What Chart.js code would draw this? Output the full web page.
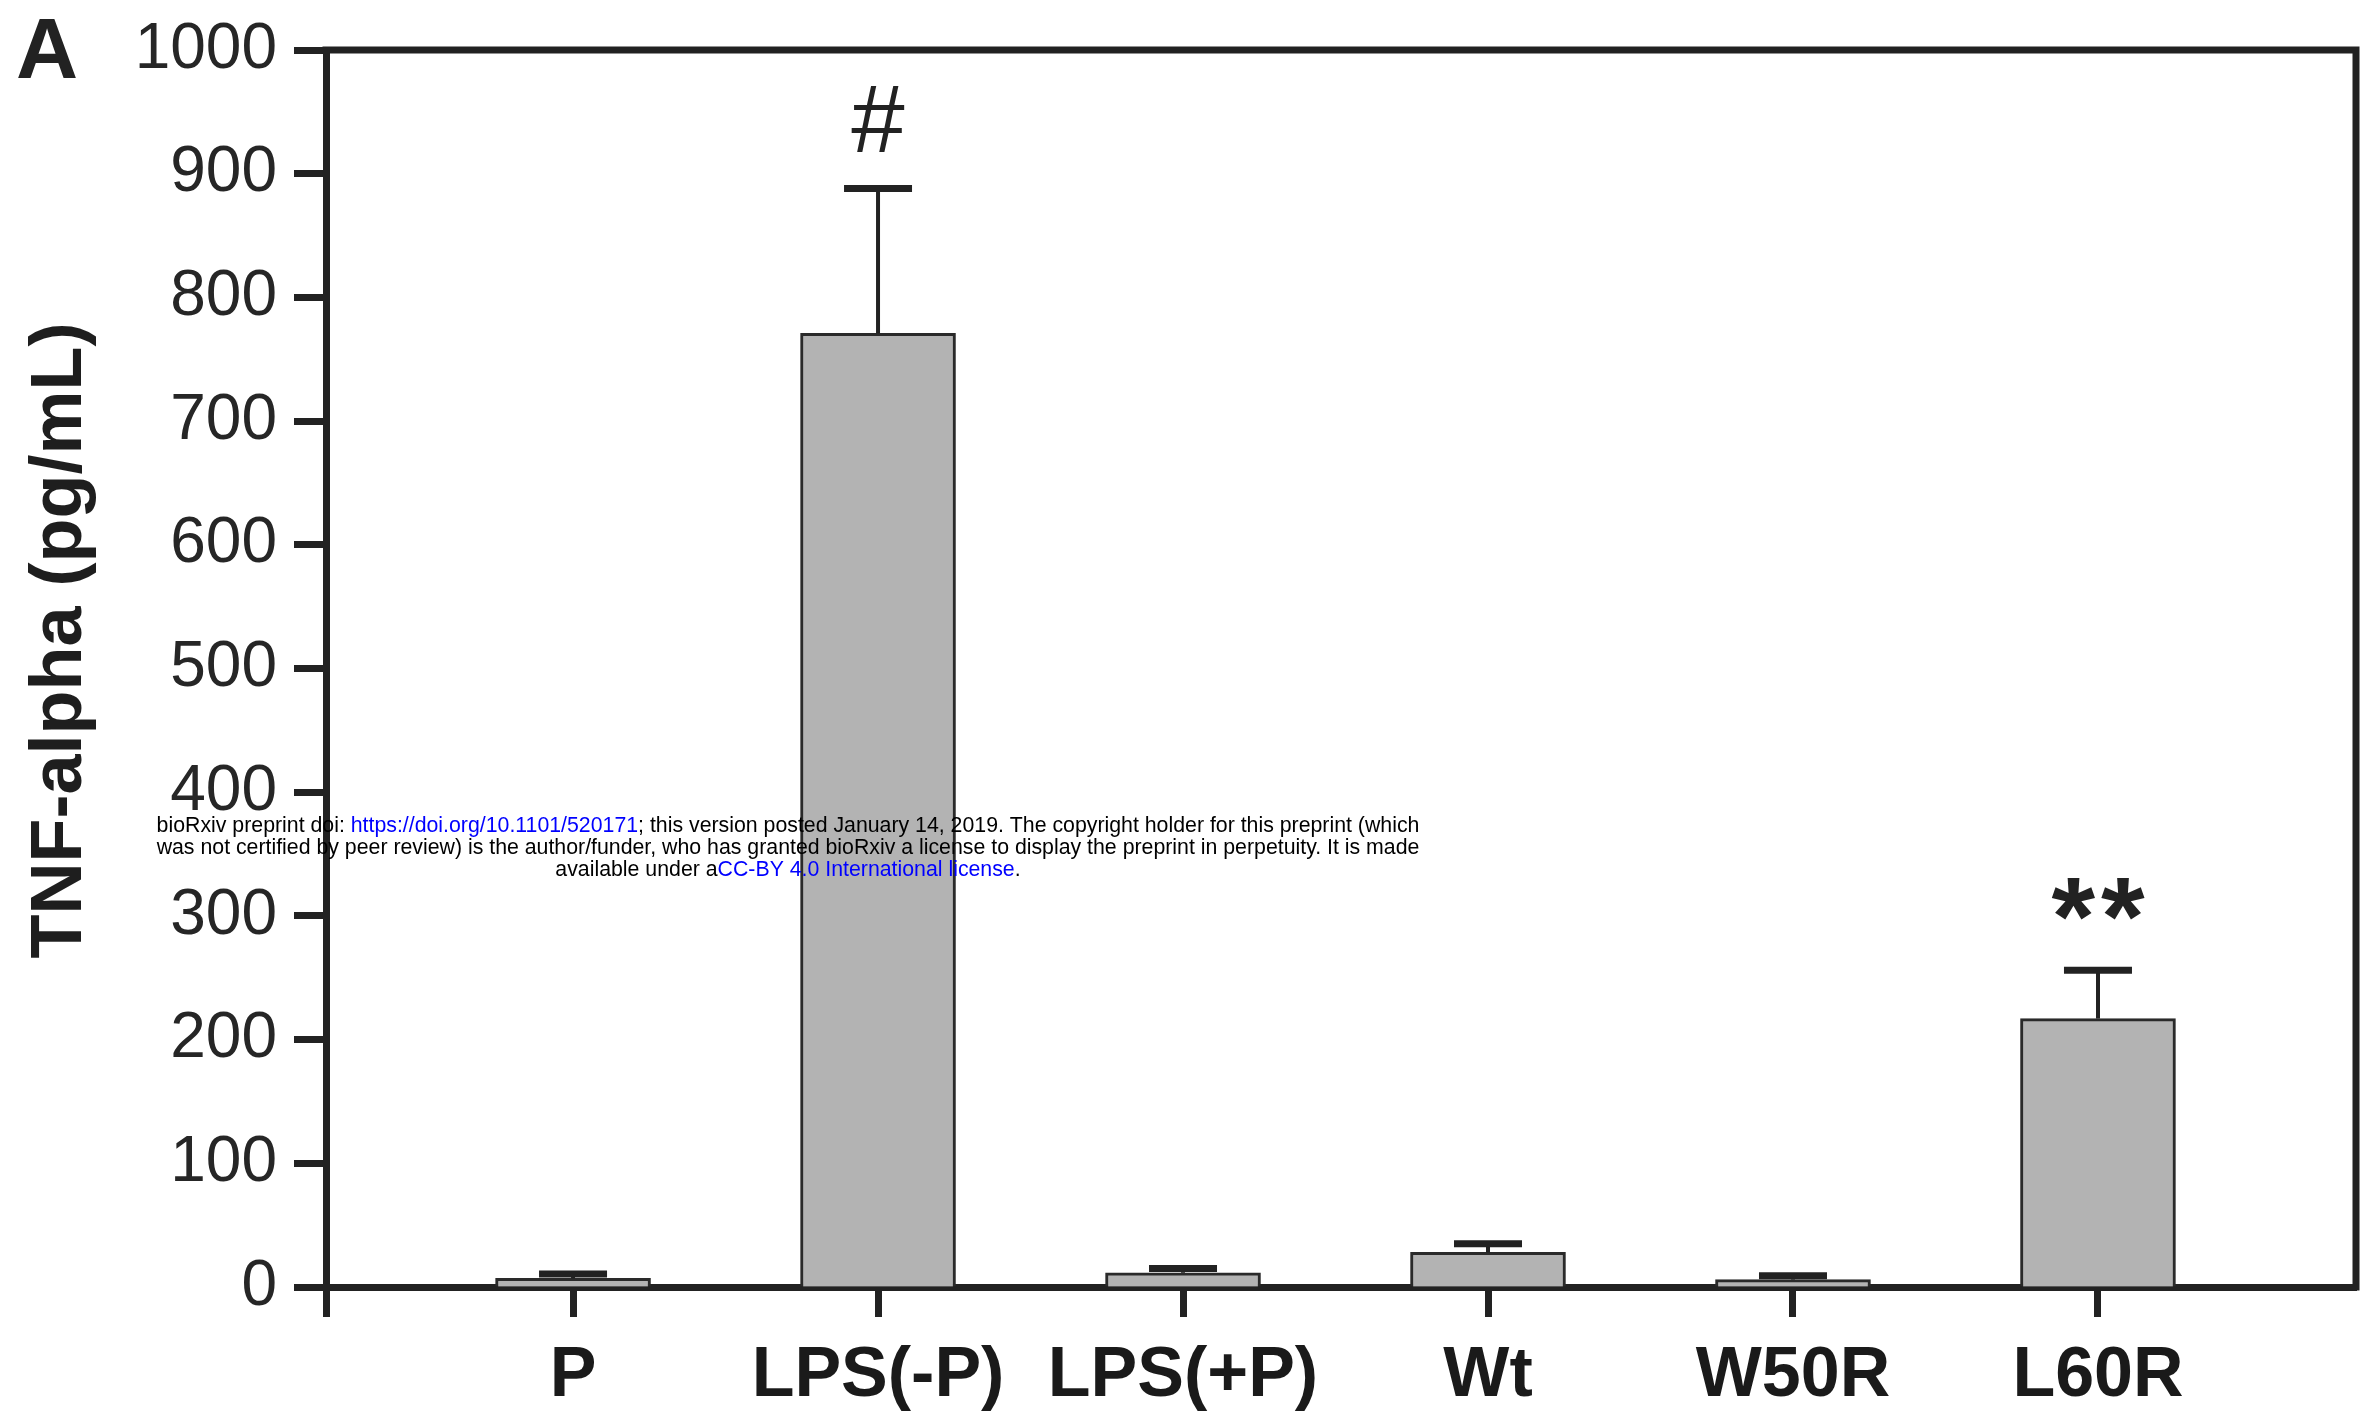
<!DOCTYPE html>
<html>
<head>
<meta charset="utf-8">
<script src="https://cdn.jsdelivr.net/npm/chart.js@4.4.1/dist/chart.umd.min.js"></script>
<style>
  html, body { margin: 0; padding: 0; background: #ffffff; }
  #wrap { width: 2360px; height: 1414px; position: relative; }
  canvas { display: block; }
</style>
</head>
<body>
<div id="wrap"><canvas id="chart" width="2360" height="1414"></canvas></div>
<script>
// Groups and measured TNF-alpha (mean and error, pg/mL)
const categories = ['P', 'LPS(-P)', 'LPS(+P)', 'Wt', 'W50R', 'L60R'];
const meanValues = [7, 771, 11.5, 28, 6, 217];
const errorValues = [3.5, 117, 3.5, 7, 3, 39];
const significance = ['', '#', '', '', '', '**'];
const yTickValues = [0, 100, 200, 300, 400, 500, 600, 700, 800, 900, 1000];

const INK = '#222222';
const FONT = '"Liberation Sans", Arial, Helvetica, sans-serif';

// Preprint notice printed across the page
const noticeLines = [
  [['bioRxiv preprint doi: ', '#000000'], ['https://doi.org/10.1101/520171', '#0000ff'],
   ['; this version posted January 14, 2019. The copyright holder for this preprint (which', '#000000']],
  [['was not certified by peer review) is the author/funder, who has granted bioRxiv a license to display the preprint in perpetuity. It is made', '#000000']],
  [['available under a', '#000000'], ['CC-BY 4.0 International license', '#0000ff'], ['.', '#000000']]
];

const markerStyles = {
  '#': { font: 'normal 96px ' + FONT, lift: 37, spacing: '0px' },
  '**': { font: 'bold 112px ' + FONT, lift: 15, spacing: '6px' }
};

const barData = categories.map((c, i) => ({ x: i, y: meanValues[i] }));

const decorations = {
  id: 'decorations',
  afterDatasetsDraw(chart) {
    const { ctx, scales: { x, y } } = chart;
    ctx.save();
    ctx.strokeStyle = INK;
    ctx.lineCap = 'butt';
    meanValues.forEach((m, i) => {
      const px = x.getPixelForValue(i);
      const yBar = y.getPixelForValue(m);
      const yTop = y.getPixelForValue(m + errorValues[i]);
      // stem
      ctx.lineWidth = 4;
      ctx.beginPath();
      ctx.moveTo(px, yBar);
      ctx.lineTo(px, yTop);
      ctx.stroke();
      // cap
      ctx.lineWidth = 7;
      ctx.beginPath();
      ctx.moveTo(px - 34, yTop);
      ctx.lineTo(px + 34, yTop);
      ctx.stroke();
      // significance marker
      const s = significance[i];
      if (s) {
        const st = markerStyles[s];
        ctx.font = st.font;
        ctx.letterSpacing = st.spacing;
        ctx.fillStyle = INK;
        ctx.textAlign = 'left';
        ctx.textBaseline = 'alphabetic';
        const w = ctx.measureText(s).width - parseFloat(st.spacing);
        ctx.fillText(s, px - w / 2, yTop - st.lift);
        ctx.letterSpacing = '0px';
      }
    });
    ctx.restore();
  },
  afterDraw(chart) {
    const { ctx, chartArea: a } = chart;
    ctx.save();
    // top and right frame of the plot box
    ctx.strokeStyle = INK;
    ctx.lineWidth = 7;
    ctx.beginPath();
    ctx.moveTo(a.left - 3.5, a.top);
    ctx.lineTo(a.right, a.top);
    ctx.lineTo(a.right, a.bottom + 3.5);
    ctx.stroke();

    // panel letter
    ctx.fillStyle = INK;
    ctx.font = 'bold 86px ' + FONT;
    ctx.textAlign = 'left';
    ctx.textBaseline = 'alphabetic';
    ctx.fillText('A', 16, 78);

    // preprint notice
    ctx.font = '21.3px ' + FONT;
    ctx.textBaseline = 'middle';
    const centerX = 788;
    const lineYs = [826, 848, 870];
    noticeLines.forEach((segs, li) => {
      const total = segs.reduce((w, s) => w + ctx.measureText(s[0]).width, 0);
      let cx = centerX - total / 2;
      segs.forEach(([txt, col]) => {
        ctx.fillStyle = col;
        ctx.fillText(txt, cx, lineYs[li]);
        cx += ctx.measureText(txt).width;
      });
    });
    ctx.restore();
  }
};

new Chart(document.getElementById('chart'), {
  type: 'bar',
  data: {
    datasets: [{
      data: barData,
      backgroundColor: '#b3b3b3',
      borderColor: '#2a2a2a',
      borderWidth: 3,
      borderSkipped: 'start',
      barThickness: 155
    }]
  },
  options: {
    responsive: false,
    animation: false,
    devicePixelRatio: 1,
    layout: { padding: { left: 0, right: 4, top: 50, bottom: 0 } },
    plugins: { legend: { display: false }, tooltip: { enabled: false } },
    scales: {
      x: {
        type: 'linear',
        min: -0.81,
        max: 5.846,
        offset: false,
        z: 1,
        grid: { offset: false, drawOnChartArea: false, tickLength: 30, tickWidth: 7, tickColor: INK },
        border: { display: true, width: 7, color: INK },
        afterBuildTicks(scale) {
          scale.ticks = [scale.min].concat(categories.map((c, i) => i)).map(v => ({ value: v }));
        },
        afterFit(scale) { scale.height = 127; scale.paddingLeft = 0; scale.paddingRight = 0; },
        ticks: {
          autoSkip: false,
          maxRotation: 0,
          padding: 18,
          color: '#1a1a1a',
          font: { family: FONT, size: 70, weight: 'bold' },
          callback: (v) => (Number.isInteger(v) && categories[v] !== undefined) ? categories[v] : ''
        }
      },
      y: {
        type: 'linear',
        min: 0,
        max: 1000,
        z: 1,
        grid: { drawOnChartArea: false, tickLength: 32, tickWidth: 7, tickColor: INK },
        border: { display: true, width: 7, color: INK },
        afterBuildTicks(scale) { scale.ticks = yTickValues.map(v => ({ value: v })); },
        afterFit(scale) { scale.width = 326; scale.paddingTop = 0; scale.paddingBottom = 0; },
        ticks: {
          padding: 17,
          color: '#262626',
          font: { family: FONT, size: 64, weight: 'normal' },
          callback: (v) => String(v)
        },
        title: {
          display: true,
          text: '\u2002 TNF-alpha (pg/mL)',
          color: '#1e1e1e',
          font: { family: FONT, size: 72, weight: 'bold' },
          padding: { top: 18, bottom: 0 }
        }
      }
    }
  },
  plugins: [decorations]
});
</script>
</body>
</html>
